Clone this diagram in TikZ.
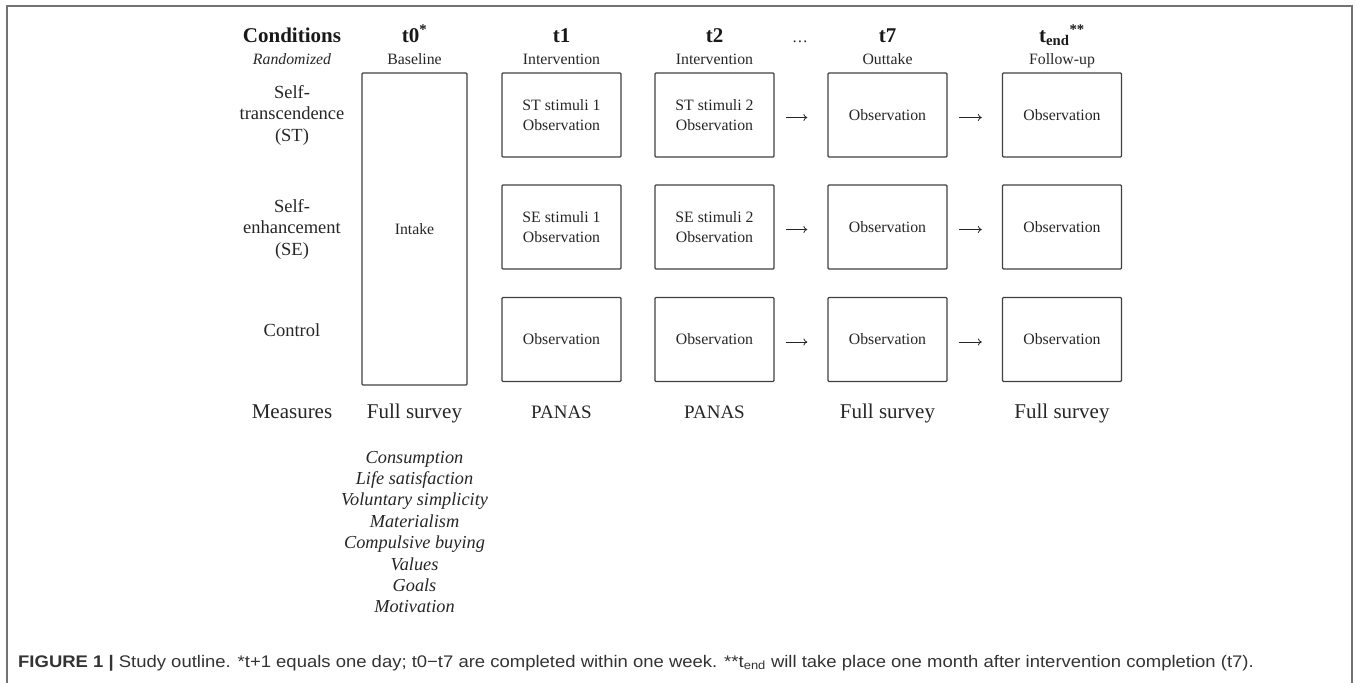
\documentclass[tikz,border=0pt]{standalone}
\usepackage{fontspec}
\setmainfont{Liberation Serif}
\newfontfamily\capfont[FakeStretch=1.1]{Liberation Sans}
\usetikzlibrary{arrows.meta}

\tikzset{
  box/.style={draw=black!75, line width=1.3pt, rounded corners=1pt,
    minimum width=119pt, minimum height=84pt, inner sep=0pt,
    align=center, text=black!85, font=\fontsize{15.8}{19.3}\selectfont},
  bigbox/.style={box, minimum width=105pt, minimum height=312pt},
  colhead/.style={anchor=base, text=black!90, font=\fontsize{21}{24}\selectfont\bfseries},
  colsub/.style={anchor=base, text=black!85, font=\fontsize{15.8}{18}\selectfont},
  cond/.style={align=center, text=black!85, font=\fontsize{18.5}{21.5}\selectfont},
  measure/.style={anchor=base, text=black!85, font=\fontsize{21}{24}\selectfont},
  arr/.style={-{To[length=4pt,width=7pt]}, line width=0.8pt, black!85,
    shorten <=11pt, shorten >=20pt},
  frame/.style={draw=black!55, line width=1.2pt},
}

\begin{document}
\begin{tikzpicture}[x=1pt,y=-1pt]
  \useasboundingbox (0,0) rectangle (1358,683);
  \draw[frame] (7,683) -- (7,6) -- (1352,6) -- (1352,683);

  % column headers
  \node[colhead] (cond)  at (292,42) {Conditions};
  \node[colsub, font=\fontsize{15.8}{18}\selectfont\itshape] (rand) at (292,64) {Randomized};
  \node[colhead] (h0) at (414.5,42) {t0\textsuperscript{*}};
  \node[colsub]  (s0) at (414.5,64) {Baseline};
  \node[colhead] (h1) at (561.5,42) {t1};
  \node[colsub]  (s1) at (561.5,64) {Intervention};
  \node[colhead] (h2) at (714.5,42) {t2};
  \node[colsub]  (s2) at (714.5,64) {Intervention};
  \node[colsub]  (dots) at (800,42) {\dots};
  \node[colhead] (h7) at (887.5,42) {t7};
  \node[colsub]  (s7) at (887.5,64) {Outtake};
  \node[colhead] (hend) at (1062,42) {t\textsubscript{end}\textsuperscript{**}};
  \node[colsub]  (send) at (1062,64) {Follow-up};

  % conditions
  \node[cond] (st) at (292,115) {Self-\\transcendence\\(ST)};
  \node[cond] (se) at (292,229) {Self-\\enhancement\\(SE)};
  \node[cond] (co) at (292,330) {Control};

  % boxes
  \node[bigbox] (intake) at (414.5,229) {Intake};
  \node[box] (st1) at (561.5,115) {ST stimuli 1\\Observation};
  \node[box] (st2) at (714.5,115) {ST stimuli 2\\Observation};
  \node[box] (st7) at (887.5,115) {Observation};
  \node[box] (stend) at (1062,115) {Observation};
  \node[box] (se1) at (561.5,227) {SE stimuli 1\\Observation};
  \node[box] (se2) at (714.5,227) {SE stimuli 2\\Observation};
  \node[box] (se7) at (887.5,227) {Observation};
  \node[box] (seend) at (1062,227) {Observation};
  \node[box] (co1) at (561.5,339.5) {Observation};
  \node[box] (co2) at (714.5,339.5) {Observation};
  \node[box] (co7) at (887.5,339.5) {Observation};
  \node[box] (coend) at (1062,339.5) {Observation};

  \draw[arr] ([yshift=-2.5pt]st2.east) -- ([yshift=-2.5pt]st7.west);
  \draw[arr] ([yshift=-2.5pt]st7.east) -- ([yshift=-2.5pt]stend.west);
  \draw[arr] ([yshift=-2.5pt]se2.east) -- ([yshift=-2.5pt]se7.west);
  \draw[arr] ([yshift=-2.5pt]se7.east) -- ([yshift=-2.5pt]seend.west);
  \draw[arr] ([yshift=-2.5pt]co2.east) -- ([yshift=-2.5pt]co7.west);
  \draw[arr] ([yshift=-2.5pt]co7.east) -- ([yshift=-2.5pt]coend.west);

  % measures
  \node[measure] (meas) at (292,418) {Measures};
  \node[measure] (m0) at (414.5,418) {Full survey};
  \node[measure, font=\fontsize{19}{22}\selectfont] (m1) at (561.5,418) {PANAS};
  \node[measure, font=\fontsize{19}{22}\selectfont] (m2) at (714.5,418) {PANAS};
  \node[measure] (m7) at (887.5,418) {Full survey};
  \node[measure] (mend) at (1062,418) {Full survey};

  \node[align=center, text=black!85, font=\fontsize{18.3}{21.4}\selectfont\itshape] (list) at (414.5,532)
    {Consumption\\Life satisfaction\\Voluntary simplicity\\Materialism\\Compulsive buying\\Values\\Goals\\Motivation};

  % caption
  \node[anchor=base west, inner sep=0pt, text=black!80, font=\capfont\fontsize{16.8}{19}\selectfont] (caption) at (18,667)
    {\textbf{FIGURE 1 |} Study outline. *t+1 equals one day; t0\textminus t7 are completed within one week. **t\textsubscript{end} will take place one month after intervention completion (t7).};
\end{tikzpicture}
\end{document}
